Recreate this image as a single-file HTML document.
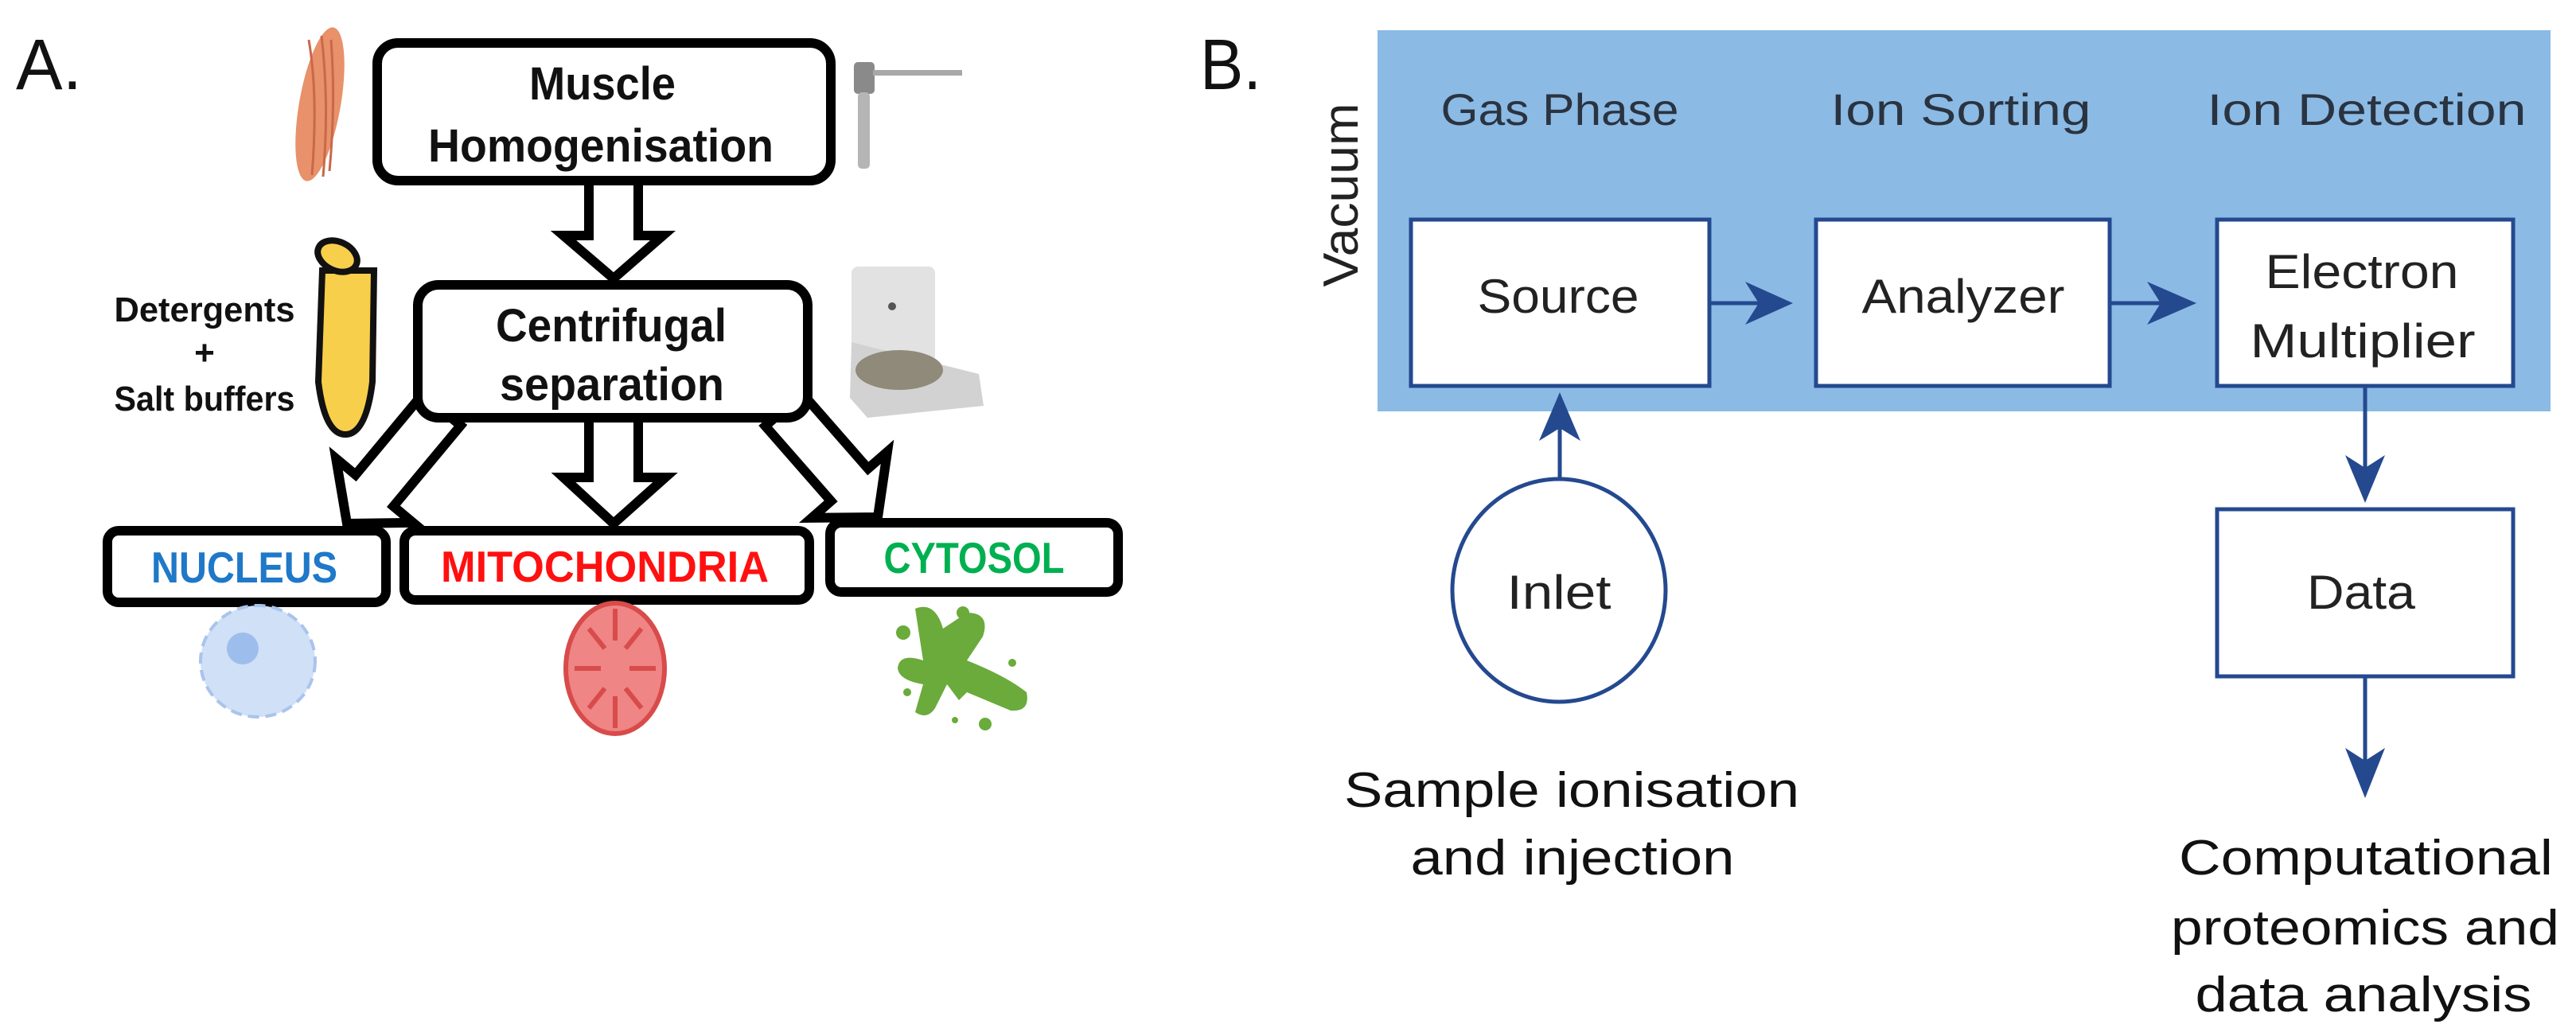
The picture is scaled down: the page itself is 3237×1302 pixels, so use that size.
<!DOCTYPE html>
<html><head><meta charset="utf-8"><style>html,body{margin:0;padding:0;background:#fff}svg{display:block}</style></head>
<body>
<svg width="3237" height="1302" viewBox="0 0 3237 1302" xmlns="http://www.w3.org/2000/svg">
<rect width="3237" height="1302" fill="#fff"/>
<g font-family="Liberation Sans, sans-serif">
<!-- Panel A -->
<text x="20" y="112" font-size="90" fill="#111" textLength="83" lengthAdjust="spacingAndGlyphs">A.</text>
<!-- icons -->
<ellipse cx="402" cy="131" rx="26" ry="98" fill="#e8916a" transform="rotate(10 402 131)"/>
<path d="M388 50 Q400 120 392 220 M404 45 Q414 130 406 222 M416 50 Q422 130 414 215" stroke="#c9684a" stroke-width="3" fill="none"/>
<rect x="1073" y="78" width="26" height="40" rx="5" fill="#8a8a8a"/>
<rect x="1097" y="88" width="112" height="7" fill="#a8a8a8"/>
<rect x="1078" y="116" width="15" height="96" rx="5" fill="#b5b5b5"/>
<path d="M405 340 L470 340 L468 480 Q460 546 434 546 Q408 546 400 480 Z" fill="#f7cf4a" stroke="#111" stroke-width="8"/>
<ellipse cx="424" cy="322" rx="26" ry="18" fill="#f7cf4a" stroke="#111" stroke-width="8" transform="rotate(25 424 322)"/>
<rect x="1070" y="335" width="105" height="120" rx="8" fill="#e2e2e2"/>
<circle cx="1121" cy="385" r="5" fill="#555"/>
<path d="M1070 430 L1230 470 L1236 510 L1090 525 L1068 500 Z" fill="#d2d2d2"/>
<ellipse cx="1130" cy="465" rx="55" ry="25" fill="#8f8a7a"/>
<!-- hollow arrows -->
<g fill="#fff" stroke="#000" stroke-width="12" stroke-linejoin="miter">
<polygon points="740,221 802,221 802,296 833,296 771,350 708,296 740,296"/>
<polygon points="578.8,534.8 494.4,636.3 519,656.8 436,658 422.2,576.2 446.8,596.7 531.2,495.2"/>
<polygon points="740,520 802,520 802,600 836,600 771,658 708,600 740,600"/>
<polygon points="1008.3,494.6 1090.8,588.9 1115,567.8 1103,650 1020.1,650.8 1044.2,629.7 961.7,535.4"/>
</g>
<g fill="#fff" stroke="#000" stroke-width="12">
<rect x="474" y="54" width="570" height="173" rx="26"/>
<rect x="525" y="358" width="490" height="167" rx="26"/>
<rect x="135" y="667" width="350" height="90" rx="14"/>
<rect x="508" y="667" width="509" height="87" rx="14"/>
<rect x="1043" y="657" width="362" height="87" rx="14"/>
</g>
<g font-weight="bold" fill="#111" text-anchor="middle">
<text x="757" y="125" font-size="58" textLength="184" lengthAdjust="spacingAndGlyphs">Muscle</text>
<text x="755" y="203" font-size="58" textLength="434" lengthAdjust="spacingAndGlyphs">Homogenisation</text>
<text x="768" y="429" font-size="58" textLength="290" lengthAdjust="spacingAndGlyphs">Centrifugal</text>
<text x="769" y="503" font-size="58" textLength="282" lengthAdjust="spacingAndGlyphs">separation</text>
<text x="257" y="404" font-size="44" textLength="227" lengthAdjust="spacingAndGlyphs">Detergents</text>
<text x="257" y="458" font-size="44">+</text>
<text x="257" y="516" font-size="44" textLength="227" lengthAdjust="spacingAndGlyphs">Salt buffers</text>
<text x="307" y="732" font-size="55" fill="#1f78c8" textLength="234" lengthAdjust="spacingAndGlyphs">NUCLEUS</text>
<text x="760" y="731" font-size="55" fill="#ff1010" textLength="412" lengthAdjust="spacingAndGlyphs">MITOCHONDRIA</text>
<text x="1224" y="720" font-size="55" fill="#00b050" textLength="227" lengthAdjust="spacingAndGlyphs">CYTOSOL</text>
</g>
<ellipse cx="324" cy="831" rx="72" ry="70" fill="#cfe0f7" stroke="#a9c4ec" stroke-width="4" stroke-dasharray="14 8"/>
<circle cx="305" cy="815" r="20" fill="#9dbdec"/>
<ellipse cx="773" cy="840" rx="62" ry="82" fill="#ef8585" stroke="#d94b4b" stroke-width="6"/>
<path d="M773 765 L773 805 M740 790 L760 815 M806 790 L786 815 M722 840 L755 840 M824 840 L791 840 M740 890 L760 865 M806 890 L786 865 M773 915 L773 875" stroke="#d94b4b" stroke-width="6"/>
<path d="M1150 765 Q1175 755 1185 790 L1215 770 Q1245 770 1235 800 L1215 830 Q1265 850 1290 870 Q1295 895 1270 893 L1215 870 L1205 880 L1190 860 L1175 890 Q1165 905 1150 895 L1160 860 Q1130 855 1128 840 Q1130 820 1160 830 Z" fill="#6aab3b"/>
<circle cx="1135" cy="795" r="9" fill="#6aab3b"/><circle cx="1210" cy="770" r="8" fill="#6aab3b"/><circle cx="1140" cy="870" r="5" fill="#6aab3b"/><circle cx="1238" cy="910" r="8" fill="#6aab3b"/><circle cx="1200" cy="905" r="4" fill="#6aab3b"/><circle cx="1272" cy="833" r="5" fill="#6aab3b"/>

<!-- Panel B -->
<text x="1508" y="112" font-size="90" fill="#111" textLength="77" lengthAdjust="spacingAndGlyphs">B.</text>
<rect x="1731" y="38" width="1474" height="479" fill="#8bbae4"/>
<text transform="translate(1706 245) rotate(-90)" text-anchor="middle" font-size="62" fill="#222" textLength="231" lengthAdjust="spacingAndGlyphs">Vacuum</text>
<g fill="#2a3340" font-size="56" text-anchor="middle">
<text x="1960" y="157" textLength="299" lengthAdjust="spacingAndGlyphs">Gas Phase</text>
<text x="2464" y="157" textLength="327" lengthAdjust="spacingAndGlyphs">Ion Sorting</text>
<text x="2974" y="157" textLength="401" lengthAdjust="spacingAndGlyphs">Ion Detection</text>
</g>
<g fill="#fff" stroke="#24498f" stroke-width="5">
<rect x="1773" y="276" width="375" height="209"/>
<rect x="2282" y="276" width="369" height="209"/>
<rect x="2786" y="276" width="372" height="209"/>
<rect x="2786" y="640" width="372" height="210"/>
<ellipse cx="1959" cy="742" rx="134" ry="140"/>
</g>
<g stroke="#24498f" stroke-width="5">
<line x1="2148" y1="381" x2="2215" y2="381"/>
<line x1="2651" y1="381" x2="2720" y2="381"/>
<line x1="1960" y1="603" x2="1960" y2="530"/>
<line x1="2972" y1="485" x2="2972" y2="600"/>
<line x1="2972" y1="850" x2="2972" y2="970"/>
</g>
<g fill="#24498f">
<polygon points="2253,381 2193,354 2210,381 2193,408"/>
<polygon points="2760,381 2698,354 2715,381 2698,408"/>
<polygon points="1960,493 1934,554 1960,538 1986,554"/>
<polygon points="2972,632 2947,572 2972,588 2997,572"/>
<polygon points="2972,1003 2947,940 2972,956 2997,940"/>
</g>
<g fill="#222" font-size="60" text-anchor="middle">
<text x="1958" y="393" textLength="203" lengthAdjust="spacingAndGlyphs">Source</text>
<text x="2467" y="393" textLength="255" lengthAdjust="spacingAndGlyphs">Analyzer</text>
<text x="2968" y="362" textLength="243" lengthAdjust="spacingAndGlyphs">Electron</text>
<text x="2969" y="449" textLength="283" lengthAdjust="spacingAndGlyphs">Multiplier</text>
<text x="1959" y="765" textLength="131" lengthAdjust="spacingAndGlyphs">Inlet</text>
<text x="2967" y="765" textLength="136" lengthAdjust="spacingAndGlyphs">Data</text>
</g>
<g fill="#111" font-size="62" text-anchor="middle">
<text x="1975" y="1014" textLength="572" lengthAdjust="spacingAndGlyphs">Sample ionisation</text>
<text x="1976" y="1099" textLength="407" lengthAdjust="spacingAndGlyphs">and injection</text>
<text x="2973" y="1099" textLength="470" lengthAdjust="spacingAndGlyphs">Computational</text>
<text x="2972" y="1187" textLength="488" lengthAdjust="spacingAndGlyphs">proteomics and</text>
<text x="2970" y="1271" textLength="423" lengthAdjust="spacingAndGlyphs">data analysis</text>
</g>
</g>
</svg>
</body></html>
